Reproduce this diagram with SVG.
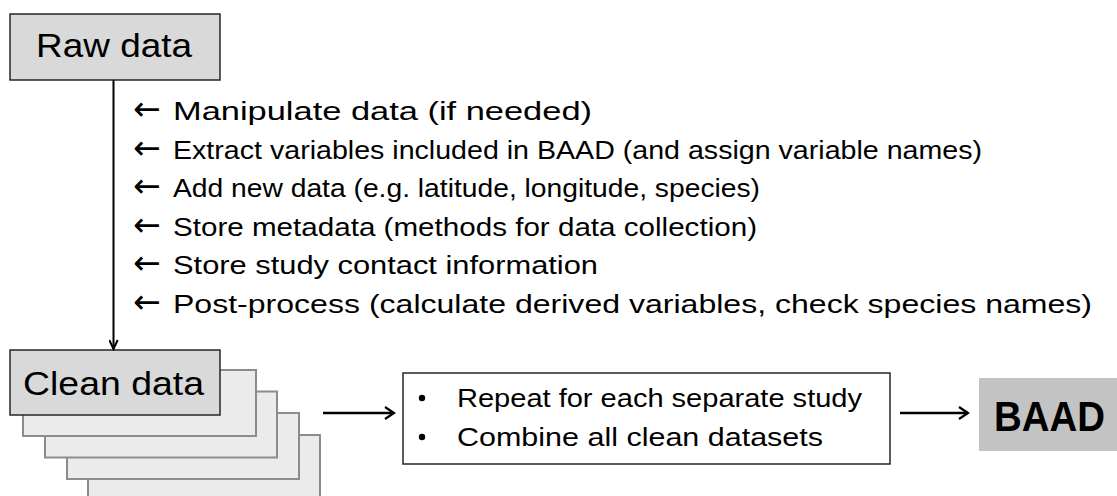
<svg xmlns="http://www.w3.org/2000/svg" width="1117" height="496" viewBox="0 0 1117 496">
<style>
.t{font-family:"Liberation Sans",Arial,sans-serif;font-size:25.5px;fill:#000}
.ar{font-family:"DejaVu Sans",sans-serif;font-size:33px}
.big{font-family:"Liberation Sans",Arial,sans-serif;font-size:33.5px;fill:#000}
.main{fill:#d9d9d9;stroke:#262626;stroke-width:1.5}
.stack{fill:#ebebeb;stroke:#8c8c8c;stroke-width:2}
.conn{stroke:#000;fill:none}
</style>
<defs>
<marker id="chev" viewBox="0 0 12 14" refX="10.5" refY="7" markerWidth="12" markerHeight="14" markerUnits="userSpaceOnUse" orient="auto">
<path d="M1.5,1 L10.5,7 L1.5,13" fill="none" stroke="#000" stroke-width="2.2"/>
</marker>
<marker id="chevs" viewBox="0 0 12 10" refX="10.5" refY="5" markerWidth="12" markerHeight="10" markerUnits="userSpaceOnUse" orient="auto">
<path d="M1.5,0.8 L10.5,5 L1.5,9.2" fill="none" stroke="#000" stroke-width="2"/>
</marker>
</defs>
<rect width="1117" height="496" fill="#fff"/>

<g id="raw-data">
<rect class="main" x="10" y="14" width="210" height="66"/>
<text class="big" x="36" y="57" textLength="156" lengthAdjust="spacingAndGlyphs">Raw data</text>
</g>

<g id="steps">
<text class="t" y="120"><tspan class="ar" x="133">←</tspan><tspan x="173" textLength="419" lengthAdjust="spacingAndGlyphs">Manipulate data (if needed)</tspan></text>
<text class="t" y="158.5"><tspan class="ar" x="133">←</tspan><tspan x="173" textLength="809" lengthAdjust="spacingAndGlyphs">Extract variables included in BAAD (and assign variable names)</tspan></text>
<text class="t" y="197"><tspan class="ar" x="133">←</tspan><tspan x="173" textLength="587" lengthAdjust="spacingAndGlyphs">Add new data (e.g. latitude, longitude, species)</tspan></text>
<text class="t" y="235.5"><tspan class="ar" x="133">←</tspan><tspan x="173" textLength="584" lengthAdjust="spacingAndGlyphs">Store metadata (methods for data collection)</tspan></text>
<text class="t" y="274"><tspan class="ar" x="133">←</tspan><tspan x="173" textLength="425" lengthAdjust="spacingAndGlyphs">Store study contact information</tspan></text>
<text class="t" y="312.5"><tspan class="ar" x="133">←</tspan><tspan x="173" textLength="919" lengthAdjust="spacingAndGlyphs">Post-process (calculate derived variables, check species names)</tspan></text>
</g>

<g id="clean-data">
<rect class="stack" x="88" y="435" width="232" height="66"/>
<rect class="stack" x="67" y="413" width="232" height="66"/>
<rect class="stack" x="45" y="391.5" width="232" height="66"/>
<rect class="stack" x="23" y="370" width="233" height="66"/>
<rect class="main" x="10" y="350" width="210" height="65"/>
<text class="big" x="23" y="395" textLength="181" lengthAdjust="spacingAndGlyphs">Clean data</text>
</g>

<g id="combine">
<rect x="403" y="373" width="487" height="91" fill="#fff" stroke="#262626" stroke-width="1.5"/>
<circle cx="422" cy="398" r="3.2" fill="#000"/>
<circle cx="422" cy="437" r="3.2" fill="#000"/>
<text class="t" x="457" y="406.5" textLength="405" lengthAdjust="spacingAndGlyphs">Repeat for each separate study</text>
<text class="t" x="457" y="446" textLength="366" lengthAdjust="spacingAndGlyphs">Combine all clean datasets</text>
</g>

<g id="baad">
<rect x="979" y="378" width="140" height="73" fill="#c3c3c3"/>
<text x="994" y="430.5" font-family="Liberation Sans,Arial,sans-serif" font-weight="bold" font-size="42" textLength="111" lengthAdjust="spacingAndGlyphs" fill="#000">BAAD</text>
</g>

<g id="connectors">
<line class="conn" x1="113.5" y1="80" x2="113.5" y2="349" stroke-width="2" marker-end="url(#chevs)"/>
<line class="conn" x1="323" y1="413" x2="394" y2="413" stroke-width="2.5" marker-end="url(#chev)"/>
<line class="conn" x1="900" y1="413" x2="968" y2="413" stroke-width="2.5" marker-end="url(#chev)"/>
</g>
</svg>
